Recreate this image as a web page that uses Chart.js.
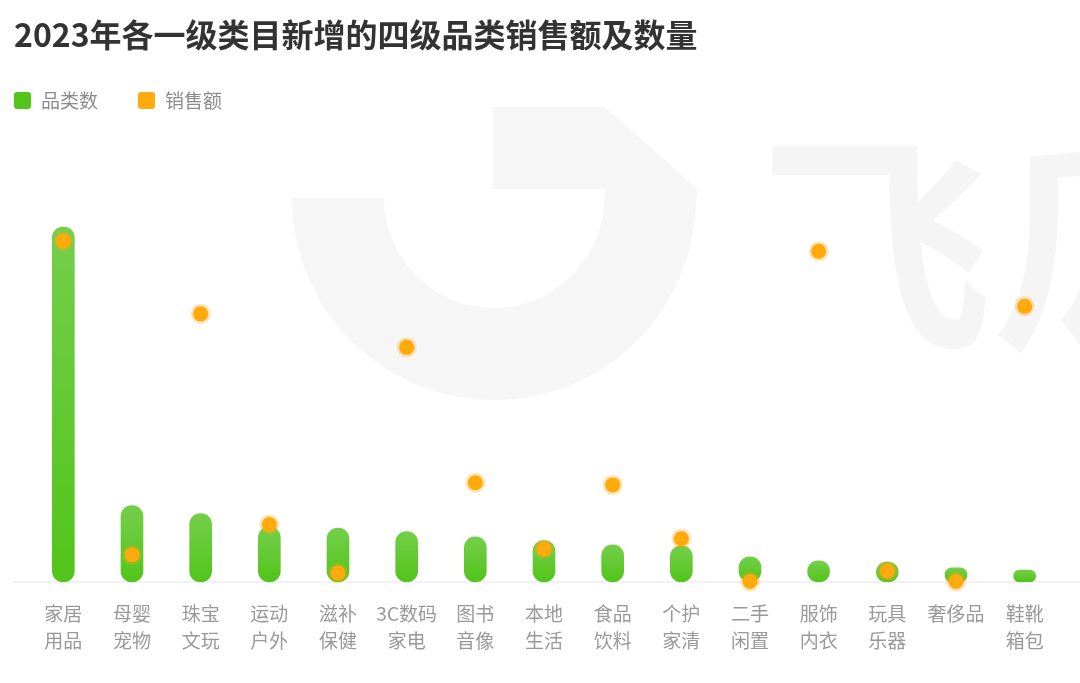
<!DOCTYPE html>
<html lang="zh-CN">
<head>
<meta charset="utf-8">
<title>2023年各一级类目新增的四级品类销售额及数量</title>
<script src="https://cdn.jsdelivr.net/npm/chart.js@4.4.1/dist/chart.umd.min.js"></script>
<style>
  html, body { margin: 0; padding: 0; background: #fff; }
  body {
    width: 1080px; height: 683px; position: relative; overflow: hidden;
    font-family: "Noto Sans CJK SC", "Noto Sans", sans-serif;
  }
  #chartBox { position: absolute; left: 0; top: 0; width: 1080px; height: 683px; }
  #title {
    position: absolute; left: 14px; top: 12px; margin: 0;
    font-size: 32px; line-height: 42px; font-weight: 700; color: #333;
  }
  #legend {
    position: absolute; left: 14px; top: 88px; margin: 0; padding: 0;
    list-style: none; display: flex;
  }
  #legend li { display: flex; align-items: center; margin-right: 40px; font-size: 19px; line-height: 24px; color: #8c8c8c; }
  #legend .box { width: 17px; height: 17px; border-radius: 3px; margin-right: 10px; }
</style>
</head>
<body>
<div id="chartBox"><canvas id="salesChart" width="1080" height="683"></canvas></div>
<h1 id="title">2023年各一级类目新增的四级品类销售额及数量</h1>
<ul id="legend"></ul>
<script>
// 一级类目（两行显示）
const categories = [
  ['家居', '用品'], ['母婴', '宠物'], ['珠宝', '文玩'], ['运动', '户外'], ['滋补', '保健'],
  ['3C数码', '家电'], ['图书', '音像'], ['本地', '生活'], ['食品', '饮料'], ['个护', '家清'],
  ['二手', '闲置'], ['服饰', '内衣'], ['玩具', '乐器'], ['奢侈品'], ['鞋靴', '箱包']
];
// 新增四级品类数
const categoryCounts = [805, 173, 155, 125, 122, 114, 102, 94, 84, 82, 57, 48, 45, 32, 27];
// 新增四级品类销售额
const salesValues = [773, 61, 608, 130, 20, 532, 225, 74, 220, 98, 1, 750, 24, 1, 625];

const GREEN = '#52c41a';
const GREEN_LIGHT = '#74cf4b';
const ORANGE = '#ffaa0d';

// 背景水印
const watermark = {
  id: 'watermark',
  beforeDraw(chart) {
    const c = chart.ctx;
    c.save();
    c.fillStyle = '#f6f6f6';
    c.beginPath();
    c.arc(494, 198, 202, 0, Math.PI);
    c.arc(494, 198, 110, Math.PI, 0, true);
    c.closePath();
    c.fill();
    c.beginPath();
    c.moveTo(493, 107);
    c.lineTo(605, 107);
    c.lineTo(697, 189);
    c.lineTo(697, 198);
    c.lineTo(605, 198);
    c.lineTo(605, 189);
    c.lineTo(493, 189);
    c.closePath();
    c.fill();
    c.fillStyle = '#f5f5f5';
    c.font = 'bold 232px "Noto Sans CJK SC"';
    c.textBaseline = 'alphabetic';
    c.fillText('飞瓜', 760, 332);
    c.restore();
  }
};

// x轴底线（比绘图区略宽）
const baseLine = {
  id: 'baseLine',
  beforeDatasetsDraw(chart) {
    const c = chart.ctx;
    const y = chart.scales.y.getPixelForValue(0);
    c.save();
    c.strokeStyle = '#f2f2f2';
    c.lineWidth = 2;
    c.beginPath();
    c.moveTo(13, y);
    c.lineTo(chart.width, y);
    c.stroke();
    c.restore();
  }
};

function barGradient(context) {
  const chart = context.chart;
  if (!chart.chartArea || context.raw == null) return GREEN;
  const yScale = chart.scales.y;
  const top = yScale.getPixelForValue(context.raw);
  const bottom = yScale.getPixelForValue(0);
  const g = chart.ctx.createLinearGradient(0, top, 0, bottom);
  g.addColorStop(0, GREEN_LIGHT);
  g.addColorStop(1, GREEN);
  return g;
}

const ctx = document.getElementById('salesChart').getContext('2d');
const salesChart = new Chart(ctx, {
  type: 'bar',
  data: {
    labels: categories,
    datasets: [
      {
        type: 'line',
        label: '销售额',
        data: salesValues,
        yAxisID: 'y1',
        showLine: false,
        clip: false,
        pointRadius: 7.5,
        pointHoverRadius: 7.5,
        pointBackgroundColor: ORANGE,
        pointBorderColor: 'rgba(255, 170, 13, 0.3)',
        pointBorderWidth: 5,
        legendColor: ORANGE,
        order: 0
      },
      {
        label: '品类数',
        data: categoryCounts,
        yAxisID: 'y',
        backgroundColor: barGradient,
        barThickness: 22,
        borderRadius: 11,
        borderSkipped: false,
        legendColor: GREEN,
        order: 1
      }
    ]
  },
  options: {
    responsive: false,
    animation: false,
    layout: { padding: { top: 141, left: 29, right: 21, bottom: 10 } },
    scales: {
      x: {
        grid: { display: false, drawTicks: false },
        border: { display: false },
        ticks: {
          color: '#999',
          padding: 18,
          font: { family: '"Noto Sans CJK SC", sans-serif', size: 19, lineHeight: 1.45 }
        }
      },
      y: { display: false, min: 0, max: 1000 },
      y1: { display: false, min: 0, max: 1000 }
    },
    plugins: {
      legend: { display: false },
      tooltip: { enabled: false }
    }
  },
  plugins: [watermark, baseLine]
});

// 图例（按 品类数、销售额 顺序）
const legendEl = document.getElementById('legend');
['品类数', '销售额'].forEach(function (name) {
  const ds = salesChart.data.datasets.find(d => d.label === name);
  const li = document.createElement('li');
  const box = document.createElement('span');
  box.className = 'box';
  box.style.background = ds.legendColor;
  li.appendChild(box);
  li.appendChild(document.createTextNode(name));
  legendEl.appendChild(li);
});
</script>
</body>
</html>
